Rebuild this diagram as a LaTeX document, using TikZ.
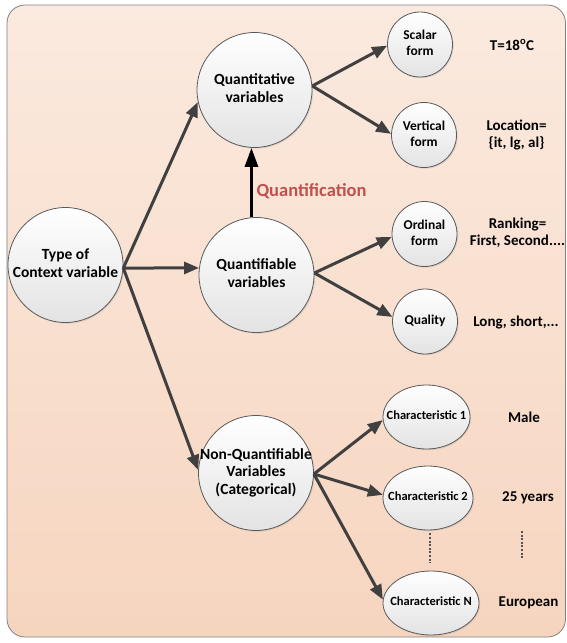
\documentclass[tikz,border=0pt]{standalone}
\usepackage{fontspec}
\setmainfont{Carlito}
\usetikzlibrary{arrows.meta,shadows,calc,shapes.geometric}
\definecolor{arr}{HTML}{404040}
\definecolor{qred}{HTML}{C0504D}
\definecolor{bgtop}{HTML}{FBEADF}
\definecolor{bgbot}{HTML}{F6D5BF}
\definecolor{edge}{HTML}{5A5A5A}
\definecolor{frameline}{HTML}{808080}
\newcommand\ctxt[1]{\makebox[0pt]{\begin{tabular}{@{}c@{}}#1\end{tabular}}}
\begin{document}
\begin{tikzpicture}[x=1pt,y=-1pt,
  bubble/.style={draw=edge, line width=0.8pt, top color=white, bottom color=black!11, inner sep=0pt,
    drop shadow={shadow xshift=1.2pt,shadow yshift=-1.2pt,opacity=0.18}},
  big/.style={bubble, circle, minimum size=115pt, font=\bfseries\fontsize{15.5}{17.5}\selectfont},
  small/.style={bubble, circle, minimum size=65pt, font=\bfseries\fontsize{13.5}{16}\selectfont},
  chr/.style={bubble, ellipse, minimum height=64pt, font=\bfseries\fontsize{12.5}{14}\selectfont},
  lbl/.style={font=\bfseries\fontsize{15}{17}\selectfont, align=center, inner sep=0pt},
  link/.style={draw=arr, line width=3pt, -{Triangle[length=15pt,width=12pt]}},
  qlink/.style={draw=black, line width=3pt, -{Triangle[length=19pt,width=13pt]}},
  dotline/.style={draw=arr!90, line width=2pt, dash pattern=on 2pt off 1.6pt}
]
\useasboundingbox (0,0) rectangle (566,643);
\path[draw=frameline, line width=0.8pt, top color=bgtop, bottom color=bgbot, rounded corners=18pt]
  (7,5) rectangle (565.5,637);

\node[big] (type) at (65.5,265) {\ctxt{Type of\\Context variable}};
\node[big] (qt) at (254.5,90) {\ctxt{Quantitative\\variables}};
\node[big] (qf) at (256.5,275) {\ctxt{Quantifiable\\variables}};
\node[big] (nq) at (256,473) {\ctxt{Non-Quantifiable\\Variables\\(Categorical)}};
\node[small] (sc) at (420,44.5) {\ctxt{Scalar\\form}};
\node[small] (vf) at (424,135) {\ctxt{Vertical\\form}};
\node[small] (of) at (424.5,234) {\ctxt{Ordinal\\form}};
\node[small] (ql) at (425,321.5) {\ctxt{Quality}};
\node[chr, minimum width=87pt] (c1) at (426.5,417) {\ctxt{Characteristic 1}};
\node[chr, minimum width=90pt] (c2) at (428,498) {\ctxt{Characteristic 2}};
\node[chr, minimum width=96pt] (cn) at (431,603) {\ctxt{Characteristic N}};

\node[lbl] (t1) at (512,45) {T=18\textsuperscript{o}C};
\node[lbl] (t2) at (516.5,135) {Location=\\\{it, lg, al\}};
\node[lbl] (t3) at (517.5,232.5) {Ranking=\\First, Second....};
\node[lbl] (t4) at (516,323) {Long, short,...};
\node[lbl] (t5) at (524,417) {Male};
\node[lbl] (t6) at (528,498) {25 years};
\node[lbl] (t7) at (528.5,603) {European};
\node[font=\bfseries\fontsize{18.5}{22}\selectfont, text=qred, inner sep=0pt] (qlab) at (311.5,191) {Quantification};

\draw[link] (type.-3) -- (qt.192);
\draw[link] (type.-3) -- (qf.173);
\draw[link] (type.-3) -- (nq.177);
\draw[link] (qt.4) -- (sc.182);
\draw[link] (qt.4) -- (vf.178);
\draw[link] (qf.2) -- (of.185);
\draw[link] (qf.2) -- (ql.172);
\draw[link] (nq.-1) -- (c1.184);
\draw[link] (nq.-1) -- (c2.176);
\draw[link] (nq.-1) -- (cn.176);
\draw[qlink] (qf.95) -- (qf.95 |- qt.south);

\draw[dotline] ($(c2.south)+(2,3)$) -- ($(cn.north)+(-1,-8)$);
\coordinate (d1) at (522,531);
\coordinate (d2) at (522,559);
\draw[dotline] (d1) -- (d2);
\end{tikzpicture}
\end{document}
